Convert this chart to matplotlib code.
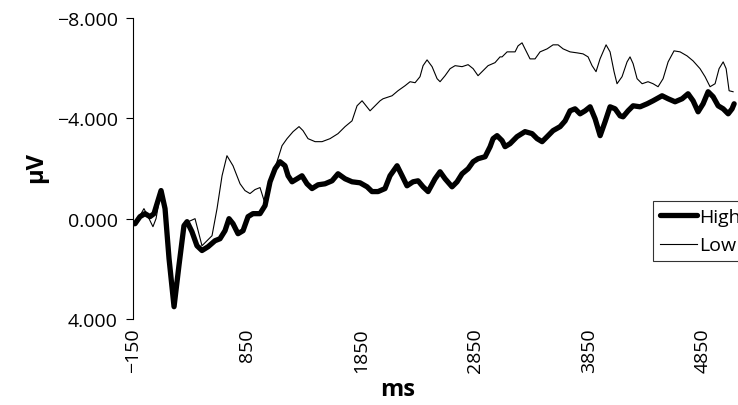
import matplotlib
matplotlib.use("Agg")
import matplotlib.pyplot as plt

# ERP traces (ms, microvolts)
high_ms = [-150, -132, -89, -45, -1, 34, 96, 131, 166, 210, 253, 297, 324, 367, 411,
           455, 508, 569, 613, 657, 692, 727, 771, 815, 859, 902, 964, 1008, 1052,
           1096, 1139, 1183, 1210, 1245, 1289, 1332, 1376, 1420, 1473, 1534, 1596,
           1648, 1710, 1771, 1841, 1903, 1946, 1999, 2060, 2104, 2166, 2210, 2253,
           2306, 2350, 2394, 2438, 2499, 2543, 2587, 2648, 2692, 2736, 2789, 2833,
           2876, 2938, 2982, 3008, 3043, 3087, 3113, 3157, 3218, 3288, 3350, 3394,
           3438, 3482, 3534, 3596, 3640, 3683, 3727, 3771, 3815, 3859, 3903, 3947,
           3990, 4034, 4078, 4122, 4148, 4192, 4236, 4297, 4359, 4411, 4490, 4543,
           4604, 4666, 4718, 4762, 4806, 4850, 4894, 4938, 4982, 5026, 5070, 5104,
           5122]
high_uv = [0.20, 0.20, -0.08, -0.20, -0.08, -0.20, -1.12, -0.40, 1.59, 3.51, 1.87,
           0.28, 0.12, 0.52, 1.08, 1.27, 1.12, 0.88, 0.80, 0.48, 0.00, 0.20, 0.60,
           0.48, -0.08, -0.20, -0.20, -0.52, -1.47, -1.99, -2.27, -2.11, -1.71,
           -1.47, -1.59, -1.71, -1.39, -1.20, -1.35, -1.39, -1.51, -1.79, -1.59,
           -1.47, -1.43, -1.27, -1.08, -1.08, -1.20, -1.71, -2.11, -1.71, -1.31,
           -1.47, -1.51, -1.27, -1.08, -1.59, -1.87, -1.59, -1.27, -1.47, -1.79,
           -1.99, -2.27, -2.39, -2.47, -2.87, -3.19, -3.31, -3.11, -2.87, -2.99,
           -3.27, -3.47, -3.39, -3.19, -3.07, -3.27, -3.51, -3.67, -3.90, -4.30,
           -4.38, -4.18, -4.30, -4.46, -3.98, -3.31, -3.86, -4.46, -4.38, -4.10,
           -4.06, -4.30, -4.50, -4.46, -4.58, -4.70, -4.90, -4.78, -4.66, -4.78,
           -4.98, -4.70, -4.26, -4.58, -5.06, -4.86, -4.50, -4.38, -4.18, -4.38,
           -4.58]

low_ms = [-150, -132, -89, -54, -18, 25, 52, 96, 131, 166, 210, 253, 297, 394, 455,
          543, 587, 631, 674, 727, 789, 832, 876, 920, 964, 1008, 1052, 1113, 1157,
          1201, 1254, 1306, 1341, 1385, 1447, 1508, 1578, 1648, 1710, 1771, 1815,
          1859, 1894, 1929, 1973, 2017, 2043, 2122, 2174, 2236, 2280, 2324, 2367,
          2394, 2429, 2473, 2517, 2543, 2587, 2631, 2675, 2736, 2789, 2833, 2876,
          2920, 2964, 3025, 3069, 3087, 3131, 3174, 3201, 3227, 3262, 3288, 3332,
          3376, 3420, 3482, 3534, 3578, 3622, 3683, 3745, 3797, 3841, 3876, 3911,
          3946, 3999, 4034, 4069, 4095, 4139, 4183, 4209, 4236, 4271, 4315, 4367,
          4411, 4455, 4499, 4543, 4595, 4648, 4709, 4762, 4823, 4867, 4911, 4955,
          4990, 5026, 5052, 5078, 5113]
low_uv = [0.20, 0.12, -0.12, -0.40, -0.08, 0.32, 0.00, -1.12, -0.40, 1.39, 3.19,
          1.80, 0.20, 0.00, 1.08, 0.68, -0.40, -1.71, -2.51, -2.11, -1.39, -1.12,
          -1.00, -1.16, -1.24, -0.60, -1.39, -2.27, -2.91, -3.19, -3.47, -3.67,
          -3.51, -3.19, -3.07, -3.07, -3.19, -3.39, -3.67, -3.90, -4.50, -4.70,
          -4.50, -4.30, -4.50, -4.70, -4.78, -4.90, -5.10, -5.30, -5.46, -5.42,
          -5.66, -6.10, -6.33, -6.06, -5.58, -5.46, -5.70, -5.98, -6.10, -6.06,
          -6.14, -5.98, -5.70, -5.90, -6.10, -6.22, -6.45, -6.45, -6.65, -6.65,
          -6.65, -6.89, -7.01, -6.77, -6.37, -6.37, -6.65, -6.77, -6.93, -6.93,
          -6.77, -6.65, -6.61, -6.57, -6.45, -6.10, -5.86, -6.37, -6.93, -6.65,
          -5.86, -5.38, -5.66, -6.25, -6.45, -6.18, -5.58, -5.38, -5.46, -5.38,
          -5.26, -5.58, -6.25, -6.69, -6.65, -6.49, -6.29, -5.98, -5.66, -5.26,
          -5.38, -5.98, -6.25, -5.98, -5.10, -5.06]

x_ticks = [-150, 850, 1850, 2850, 3850, 4850]
y_ticks = [-8, -4, 0, 4]

plt.rcParams['font.family'] = ['Open Sans', 'DejaVu Sans']

fig = plt.figure(figsize=(7.38, 4.06), dpi=100)
ax = fig.add_axes([133 / 738, 1 - 320 / 406, 1 - 133 / 738, (320 - 19) / 406])

ax.plot(high_ms, high_uv, color='black', lw=3.8, solid_joinstyle='round',
        solid_capstyle='round', label='High')
ax.plot(low_ms, low_uv, color='black', lw=0.8, label='Low')

ax.set_xlim(-150, 5156)
ax.set_ylim(4, -8)

ax.set_yticks(y_ticks)
ax.set_yticklabels([('%.3f' % v).replace('-', '\u2212') for v in y_ticks], fontsize=14)
ax.set_xticks(x_ticks)
ax.set_xticklabels([str(v).replace('-', '\u2212') for v in x_ticks], rotation=90,
                   fontsize=14)
ax.tick_params(axis='x', length=0, pad=6)
ax.tick_params(axis='y', length=5, width=0.8, direction='out', pad=6)

for side in ['top', 'right', 'bottom']:
    ax.spines[side].set_visible(False)
ax.spines['left'].set_linewidth(0.8)

fig.text(36 / 738, 1 - 168 / 406, 'µV', rotation=90, fontsize=17, fontweight='bold',
         ha='center', va='center')
fig.text(398 / 738, 1 - 390 / 406, 'ms', fontsize=17, fontweight='bold',
         ha='center', va='center')

leg = ax.legend(loc='upper left', bbox_to_anchor=(653 / 738, 1 - 202 / 406),
                bbox_transform=fig.transFigure, fontsize=14, frameon=True,
                fancybox=False, handlelength=1.9, handletextpad=0.1,
                borderpad=0.35, labelspacing=0.55, borderaxespad=0)
leg.get_frame().set_edgecolor('black')
leg.get_frame().set_linewidth(0.8)

fig.savefig('out.png', dpi=100)
